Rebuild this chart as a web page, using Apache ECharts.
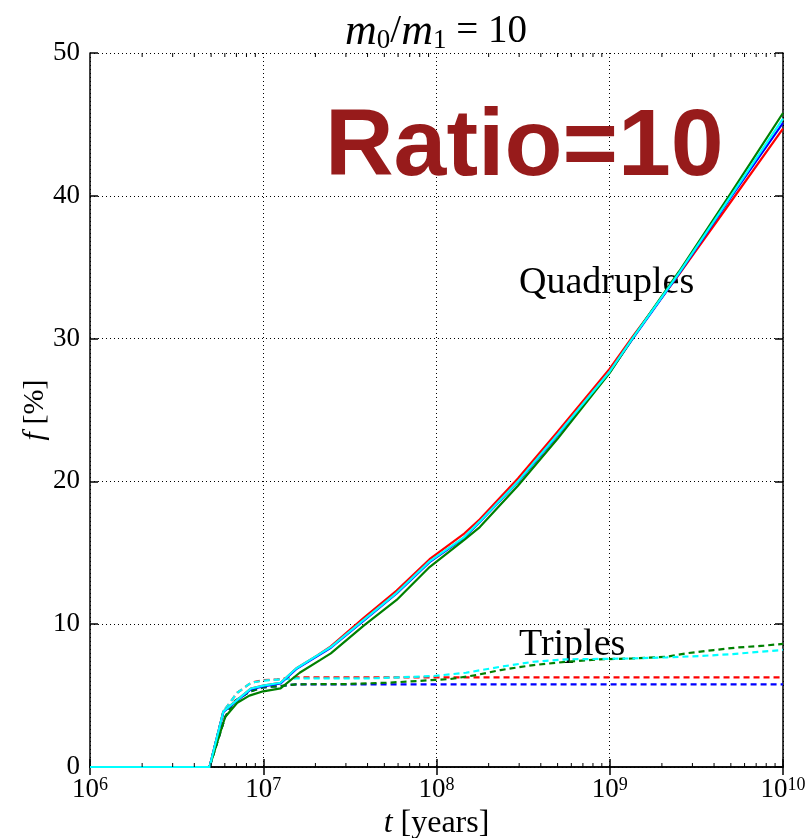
<!DOCTYPE html>
<html>
<head>
<meta charset="utf-8">
<script src="https://cdn.jsdelivr.net/npm/echarts@6/dist/echarts.min.js"></script>
<style>
  html, body { margin: 0; padding: 0; background: #fff; }
  #chart { width: 812px; height: 838px; }
</style>
</head>
<body>
<div id="chart"></div>
<script>
// data as [log10(t / years), f %]
const quadRed = [[6.0,0],[6.69,0],[6.77,3.9],[6.85,4.7],[6.93,5.5],[7.0,5.7],[7.1,5.9],[7.19,6.9],[7.31,7.8],[7.39,8.45],[7.58,10.45],[7.77,12.35],[7.96,14.55],[8.16,16.35],[8.25,17.35],[8.47,20.2],[8.7,23.5],[9.0,27.9],[9.13,30.1],[9.4,34.5],[9.7,39.6],[10,44.7]];
const quadBlue = [[6.0,0],[6.69,0],[6.77,3.85],[6.85,4.65],[6.93,5.45],[7.0,5.65],[7.1,5.85],[7.19,6.85],[7.31,7.75],[7.39,8.35],[7.58,10.25],[7.77,12.15],[7.96,14.35],[8.16,16.05],[8.25,17.15],[8.47,19.95],[8.7,23.25],[9.0,27.65],[9.13,29.95],[9.4,34.55],[9.7,39.9],[10,45.1]];
const quadGreen = [[6.0,0],[6.69,0],[6.78,3.5],[6.85,4.5],[6.92,5.0],[7.0,5.3],[7.1,5.5],[7.21,6.6],[7.33,7.5],[7.39,7.96],[7.58,9.9],[7.77,11.7],[7.96,14.0],[8.16,15.9],[8.25,16.8],[8.47,19.7],[8.7,23.0],[9.0,27.6],[9.13,30.0],[9.4,34.7],[9.7,40.2],[10,45.8]];
const quadCyan = [[6.0,0],[6.69,0],[6.77,3.9],[6.85,4.7],[6.93,5.5],[7.0,5.7],[7.1,5.9],[7.19,6.9],[7.31,7.8],[7.39,8.4],[7.58,10.3],[7.77,12.2],[7.96,14.4],[8.16,16.1],[8.25,17.2],[8.47,20.0],[8.7,23.3],[9.0,27.7],[9.13,30.0],[9.4,34.6],[9.7,40.0],[10,45.4]];

const tripRed = [[6.0,0],[6.69,0],[6.77,3.9],[6.85,5.2],[6.93,5.9],[7.0,6.08],[7.08,6.14],[7.19,6.28],[10,6.28]];
const tripBlue = [[6.0,0],[6.69,0],[6.78,3.5],[6.83,4.57],[6.92,5.27],[7.0,5.58],[7.1,5.67],[7.19,5.79],[10,5.79]];
const tripGreen = [[6.0,0],[6.69,0],[6.78,3.5],[6.83,4.57],[6.92,5.27],[7.0,5.58],[7.1,5.67],[7.19,5.79],[7.48,5.81],[7.71,5.9],[7.79,5.95],[8.08,6.16],[8.23,6.44],[8.37,6.79],[8.56,7.14],[8.75,7.37],[8.94,7.54],[9.13,7.6],[9.33,7.72],[9.44,7.96],[9.6,8.19],[9.73,8.36],[9.89,8.5],[10,8.62]];
const tripCyan = [[6.0,0],[6.69,0],[6.77,3.9],[6.85,5.2],[6.93,5.9],[7.0,6.05],[7.08,6.12],[7.19,6.2],[7.6,6.2],[7.79,6.28],[7.98,6.37],[8.17,6.6],[8.37,7.02],[8.56,7.37],[8.75,7.54],[9.13,7.6],[9.33,7.68],[9.52,7.77],[9.71,7.91],[10,8.2]];

const decades = [6, 7, 8, 9];
const minorMult = [2, 3, 4, 5, 6, 7, 8, 9];

const serif = "'Liberation Serif', 'DejaVu Serif', serif";

function toT(arr) {
  return arr.map(p => [Math.pow(10, p[0]), p[1]]);
}

const minorTicks = [];
decades.forEach(d => minorMult.forEach(k => minorTicks.push([k * Math.pow(10, d), 0])));

function lineSeries(data, color, dashed, z) {
  return {
    type: "line",
    data: toT(data),
    showSymbol: false,
    symbol: "none",
    z: z,
    lineStyle: { color: color, width: 2.2, type: dashed ? [6, 4] : "solid" },
    animation: false,
  };
}

const chart = echarts.init(document.getElementById("chart"));
chart.setOption({
  animation: false,
  title: {
    text: "{i|m}{s|0}{n|/}{i|m}{s|1}{n| = 10}",
    left: 431,
    textAlign: "center",
    top: 5,
    textStyle: {
      rich: {
        i: { fontFamily: serif, fontStyle: "italic", fontWeight: "normal", fontSize: 44, color: "#000" },
        n: { fontFamily: serif, fontWeight: "normal", fontSize: 39, color: "#000" },
        s: { fontFamily: serif, fontWeight: "normal", fontSize: 27, color: "#000", verticalAlign: "bottom", padding: [12, 0, 0, 0] },
      },
    },
  },
  grid: { left: 90, right: 29, top: 53, bottom: 71, containLabel: false, outerBoundsMode: "none" },
  xAxis: [
    {
      type: "log",
      logBase: 10,
      min: 1e6,
      max: 1e10,
      name: "{i|t}{n| [years]}",
      nameLocation: "middle",
      nameGap: 38,
      nameTextStyle: {
        rich: {
          i: { fontFamily: serif, fontStyle: "italic", fontSize: 32, color: "#000" },
          n: { fontFamily: serif, fontSize: 32, color: "#000" },
        },
      },
      axisLine: { lineStyle: { color: "#000", width: 1.5 } },
      axisTick: { inside: true, length: 8, lineStyle: { color: "#000", width: 1.5 } },
      axisLabel: {
        margin: 9,
        formatter: v => "{b|10}{s|" + Math.round(Math.log10(v)) + "}",
        rich: {
          b: { fontFamily: serif, fontSize: 27, color: "#000" },
          s: { fontFamily: serif, fontSize: 18, color: "#000", verticalAlign: "top", padding: [0, 0, 8, 0] },
        },
      },
      splitLine: { show: true, lineStyle: { color: "#000", width: 1, type: [1, 3] } },
    },
    {
      type: "log",
      logBase: 10,
      min: 1e6,
      max: 1e10,
      position: "top",
      axisLine: { lineStyle: { color: "#000", width: 1.5 } },
      axisTick: { inside: true, length: 8, lineStyle: { color: "#000", width: 1.5 } },
      axisLabel: { show: false },
      splitLine: { show: false },
    },
  ],
  yAxis: [
    {
      type: "value",
      min: 0,
      max: 50,
      interval: 10,
      name: "{i|f}{n| [%]}",
      nameLocation: "middle",
      nameGap: 40,
      nameMoveOverlap: false,
      nameRotate: 90,
      nameTextStyle: {
        rich: {
          i: { fontFamily: serif, fontStyle: "italic", fontSize: 30, color: "#000" },
          n: { fontFamily: serif, fontSize: 30, color: "#000" },
        },
      },
      axisLine: { lineStyle: { color: "#000", width: 1.5 } },
      axisTick: { inside: true, length: 8, lineStyle: { color: "#000", width: 1.5 } },
      axisLabel: { margin: 10, fontFamily: serif, fontSize: 27, color: "#000" },
      splitLine: { show: true, lineStyle: { color: "#000", width: 1, type: [1, 3] } },
    },
    {
      type: "value",
      min: 0,
      max: 50,
      interval: 10,
      position: "right",
      axisLine: { show: true, lineStyle: { color: "#000", width: 1.5 } },
      axisTick: { show: true, inside: true, length: 8, lineStyle: { color: "#000", width: 1.5 } },
      axisLabel: { show: false },
      splitLine: { show: false },
    },
  ],
  graphic: [
    {
      type: "text",
      left: 325,
      top: 101,
      z: 1,
      style: {
        text: "Ratio=10",
        fontFamily: "'Liberation Sans', Arial, sans-serif",
        fontWeight: "bold",
        fontSize: 95,
        fill: "#971b1b",
      },
    },
    {
      type: "text",
      left: 519,
      top: 264,
      style: { text: "Quadruples", fontFamily: serif, fontSize: 38, fill: "#000" },
    },
    {
      type: "text",
      left: 519,
      top: 626,
      style: { text: "Triples", fontFamily: serif, fontSize: 38, fill: "#000" },
    },
  ],
  series: [
    lineSeries(tripRed, "#ff0000", true, 3),
    lineSeries(tripBlue, "#0000ff", true, 3),
    lineSeries(tripGreen, "#008000", true, 3),
    lineSeries(tripCyan, "#00ffff", true, 3),
    lineSeries(quadRed, "#ff0000", false, 4),
    lineSeries(quadBlue, "#0000ff", false, 4),
    lineSeries(quadGreen, "#008000", false, 4),
    lineSeries(quadCyan, "#00ffff", false, 4),
    {
      type: "custom",
      data: minorTicks,
      silent: true,
      z: 10,
      clip: false,
      renderItem: (params, api) => {
        const b = api.coord([api.value(0), 0]);
        const t = api.coord([api.value(0), 50]);
        return {
          type: "group",
          children: [
            { type: "line", shape: { x1: b[0], y1: b[1], x2: b[0], y2: b[1] - 4 }, style: { stroke: "#000", lineWidth: 1 } },
            { type: "line", shape: { x1: t[0], y1: t[1], x2: t[0], y2: t[1] + 4 }, style: { stroke: "#000", lineWidth: 1 } },
          ],
        };
      },
    },
  ],
});
</script>
</body>
</html>
